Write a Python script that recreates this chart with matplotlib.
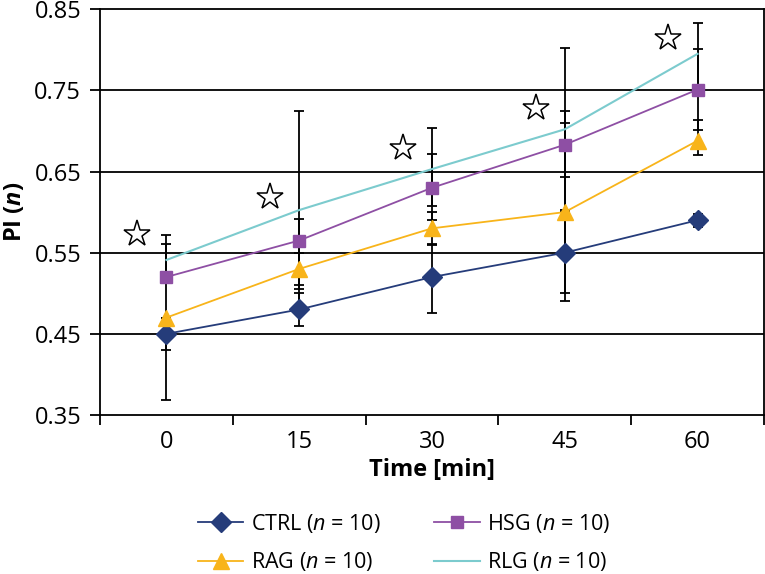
import numpy as np
import matplotlib
matplotlib.use("Agg")
import matplotlib.pyplot as plt
from matplotlib.ticker import FixedLocator, NullFormatter

plt.rcParams['font.family'] = ['Open Sans', 'DejaVu Sans']
plt.rcParams['mathtext.fontset'] = 'custom'
plt.rcParams['mathtext.it'] = 'Open Sans:italic'
plt.rcParams['mathtext.bfit'] = 'Open Sans:bold:italic'
plt.rcParams['mathtext.rm'] = 'Open Sans'

# Data
times = ["0", "15", "30", "45", "60"]

ctrl = [0.45, 0.48, 0.52, 0.55, 0.59]
ctrl_lo = [0.082, 0.02, 0.044, 0.05, 0.008]
ctrl_hi = [0.0, 0.02, 0.041, 0.05, 0.008]

rag = [0.47, 0.53, 0.58, 0.60, 0.688]
rag_lo = [0.04, 0.02, 0.02, 0.11, 0.018]
rag_hi = [0.0, 0.02, 0.02, 0.11, 0.025]

hsg = [0.52, 0.565, 0.63, 0.683, 0.751]
hsg_lo = [0.05, 0.06, 0.04, 0.04, 0.05]
hsg_hi = [0.052, 0.027, 0.041, 0.041, 0.05]

rlg = [0.541, 0.6025, 0.653, 0.702, 0.795]
rlg_lo = [0.02, 0.12, 0.045, 0.10, 0.038]
rlg_hi = [0.02, 0.122, 0.05, 0.10, 0.038]

# significance stars
stars = [0.573, 0.618, 0.679, 0.728, 0.814]

x = np.arange(len(times))

fig = plt.figure(figsize=(7.65, 5.74), dpi=100)
ax = fig.add_axes([0.1307, 0.277, 0.868, 0.707])

for y in [0.45, 0.55, 0.65, 0.75]:
    ax.axhline(y, color="black", lw=1.3, zorder=1)

series = [
    ("CTRL", ctrl, ctrl_lo, ctrl_hi, "#253C7A", "D", 10),
    ("RAG", rag, rag_lo, rag_hi, "#F8B41A", "^", 11),
    ("HSG", hsg, hsg_lo, hsg_hi, "#8E4FA4", "s", 9),
    ("RLG", rlg, rlg_lo, rlg_hi, "#7CCBCE", None, 0),
]

# error bars first, underneath markers
for name, vals, lo, hi, col, mk, ms in series:
    ax.errorbar(x, vals, yerr=[lo, hi], fmt="none", ecolor="black",
                elinewidth=1.3, capsize=3.7, capthick=1.3, zorder=2)

handles = {}
for name, vals, lo, hi, col, mk, ms in series:
    ln, = ax.plot(x, vals, color=col, lw=1.3, marker=mk, markersize=ms,
                  markeredgecolor=col, markerfacecolor=col, zorder=3,
                  label=name + r" ($n$ = 10)")
    if mk is None:
        ln.set_linewidth(1.5)
    handles[name] = ln

ax.plot(x - 0.22, stars, linestyle="none", marker="*", markersize=20,
        markerfacecolor="white", markeredgecolor="black", markeredgewidth=1.1,
        zorder=4)

ax.set_xlim(-0.5, 4.5)
ax.set_ylim(0.35, 0.85)
ax.set_yticks([0.35, 0.45, 0.55, 0.65, 0.75, 0.85])
ax.set_yticklabels(["0.35", "0.45", "0.55", "0.65", "0.75", "0.85"])
ax.set_xticks(x)
ax.set_xticklabels(times)
ax.xaxis.set_minor_locator(FixedLocator(np.arange(-0.5, 5.0, 1.0)))
ax.xaxis.set_minor_formatter(NullFormatter())
ax.tick_params(axis="x", which="major", length=0, pad=11, labelsize=17)
ax.tick_params(axis="x", which="minor", length=7.5, width=1.3, direction="out")
ax.tick_params(axis="y", length=7.5, width=1.3, direction="out", pad=6, labelsize=17)

for sp in ax.spines.values():
    sp.set_linewidth(1.3)
    sp.set_color("black")

ax.set_xlabel("Time [min]", fontsize=17, fontweight="bold", labelpad=3)
ax.set_ylabel(r"PI ($\mathbfit{n}$)", fontsize=17, fontweight="bold", labelpad=5)

order = ["CTRL", "RAG", "HSG", "RLG"]
fig.legend([handles[k] for k in order], [handles[k].get_label() for k in order],
           loc="upper left", bbox_to_anchor=(198 / 765, 1 - 512 / 574), ncol=2,
           frameon=False, fontsize=15.5, handlelength=2.1, handletextpad=0.35,
           columnspacing=2.5, labelspacing=0.7, borderpad=0, borderaxespad=0)

fig.savefig("out.png", dpi=100)
